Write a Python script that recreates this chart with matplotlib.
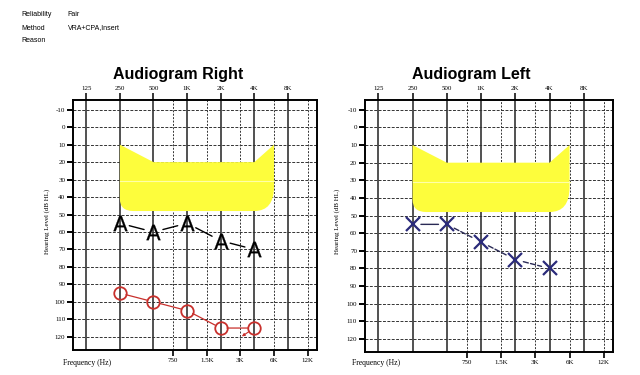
import matplotlib.pyplot as plt
from matplotlib.path import Path
from matplotlib.patches import PathPatch
import numpy as np

# header info
header_keys = ['Reliability', 'Method', 'Reason']
header_vals = ['Fair', 'VRA+CPA,Insert', '']

# frequency axes
octave_freqs = [125, 250, 500, 1000, 2000, 4000, 8000]
octave_labels = ['125', '250', '500', '1K', '2K', '4K', '8K']
mid_freqs = [750, 1500, 3000, 6000, 12000]
mid_labels = ['750', '1.5K', '3K', '6K', '12K']
levels = list(range(-10, 130, 10))

# right ear
right_freqs = [250, 500, 1000, 2000, 4000]
right_A = [55, 60, 55, 65, 70]
right_O = [95, 100, 105, 115, 115]

# left ear
left_freqs = [250, 500, 1000, 2000, 4000]
left_X = [55, 55, 65, 75, 80]
left_dash = ['-', '--', '--', '--']

# yellow band outline (freq, dB)
band_freq = [250, 500, 4000, 6000, 6000, 6000, 4000, 330, 250, 250, 250]
band_level = [10, 20, 20, 10, 34, 48, 48, 48, 48, 41, 10]
band_codes = [Path.MOVETO, Path.LINETO, Path.LINETO, Path.LINETO, Path.LINETO,
              Path.CURVE3, Path.CURVE3, Path.LINETO, Path.CURVE3, Path.CURVE3,
              Path.CLOSEPOLY]

serif = 'Liberation Serif'
sans = 'Liberation Sans'

fig = plt.figure(figsize=(6.4, 3.75), dpi=100)

for i, (k, v) in enumerate(zip(header_keys, header_vals)):
    y = 1 - (15 + 13 * i) / 375
    fig.text(0.034, y, k, fontsize=5, family=sans, va='center')
    fig.text(0.106, y, v, fontsize=5, family=sans, va='center')


def make_audiogram(rect, title, title_x):
    ax = fig.add_axes(rect)
    ax.set_xscale('log', base=2)
    ax.set_xlim(95, 14500)
    ax.set_ylim(127.5, -15.5)
    for s in ax.spines.values():
        s.set_linewidth(1.4)

    # grid
    for f in octave_freqs:
        ax.axvline(f, color='#222222', lw=1.1, zorder=0.5)
    for f in mid_freqs:
        ax.axvline(f, color='#333333', lw=0.7, ls=(0, (2, 1.5)), zorder=0.5)
    for lv in levels:
        ax.axhline(lv, color='#333333', lw=0.7, ls=(0, (3, 1.5)), zorder=0.5)

    # speech band
    path = Path(np.column_stack([band_freq, band_level]), band_codes)
    ax.add_patch(PathPatch(path, facecolor='#fdfd3c', edgecolor='none', zorder=1))
    ax.plot([250, 6000], [31, 31], color='#ffffa8', lw=0.8, zorder=1.1)

    ax.set_xticks(mid_freqs)
    ax.set_xticklabels(mid_labels)
    ax.xaxis.set_minor_locator(plt.NullLocator())
    ax.set_yticks(levels)
    ax.set_yticklabels([str(l) for l in levels])
    ax.tick_params(axis='x', direction='out', length=4, width=1.2, pad=2,
                   labelsize=5)
    ax.tick_params(axis='y', direction='out', length=4, width=1.4, pad=1.5,
                   labelsize=5)
    for lab in ax.get_xticklabels() + ax.get_yticklabels():
        lab.set_family(serif)

    top = ax.secondary_xaxis('top')
    top.set_xticks(octave_freqs)
    top.set_xticklabels(octave_labels)
    top.xaxis.set_minor_locator(plt.NullLocator())
    top.tick_params(direction='out', length=5, width=1.1, pad=1.5, labelsize=5)
    top.spines['top'].set_visible(False)
    for lab in top.get_xticklabels():
        lab.set_family(serif)

    fig.text(title_x, 1 - 74 / 375, title, fontsize=11.5, family=sans,
             weight='bold', ha='center', va='center')
    return ax


axR = make_audiogram([0.114, 0.067, 0.381, 0.666], 'Audiogram Right', 0.278)
axL = make_audiogram([0.570, 0.061, 0.388, 0.672], 'Audiogram Left', 0.736)

# right ear data
for i in range(len(right_freqs) - 1):
    axR.annotate('', xy=(right_freqs[i + 1], right_A[i + 1]),
                 xytext=(right_freqs[i], right_A[i]),
                 arrowprops=dict(arrowstyle='-', color='black', lw=1.0,
                                 shrinkA=7, shrinkB=7), zorder=3)
    axR.annotate('', xy=(right_freqs[i + 1], right_O[i + 1]),
                 xytext=(right_freqs[i], right_O[i]),
                 arrowprops=dict(arrowstyle='-', color='#c8302c', lw=0.9,
                                 shrinkA=4.5, shrinkB=4.5), zorder=3)
axR.plot(right_freqs, right_A, ls='none', marker=r'$\mathsf{A}$', ms=11,
         mew=0.2, color='black', zorder=4)
axR.plot(right_freqs, right_O, ls='none', marker='o', ms=9, mfc='none',
         mec='#c8302c', mew=1.3, zorder=4)
# no-response arrow on last bone point
axR.annotate('', xy=(right_freqs[-1], right_O[-1]), xytext=(-9, -6),
             textcoords='offset points',
             arrowprops=dict(arrowstyle='<|-', color='#c8302c', lw=0.8,
                             shrinkA=0, shrinkB=5, mutation_scale=4), zorder=4)

# left ear data
for i in range(len(left_freqs) - 1):
    axL.annotate('', xy=(left_freqs[i + 1], left_X[i + 1]),
                 xytext=(left_freqs[i], left_X[i]),
                 arrowprops=dict(arrowstyle='-', color='#2a2a55', lw=1.0,
                                 ls=left_dash[i], shrinkA=6, shrinkB=6),
                 zorder=3)
axL.plot(left_freqs, left_X, ls='none', marker='x', ms=10, mew=1.6,
         color='#2b2b7a', zorder=4)

# axis captions
for x, y in [(0.073, 0.41), (0.527, 0.41)]:
    fig.text(x, y, 'Hearing Level (dB HL)', fontsize=5, family=serif,
             rotation=90, ha='center', va='center')
for x in [0.098, 0.55]:
    fig.text(x, 1 - 363 / 375, 'Frequency (Hz)', fontsize=5.5, family=serif,
             ha='left', va='center')

fig.savefig('out.png', dpi=100)
